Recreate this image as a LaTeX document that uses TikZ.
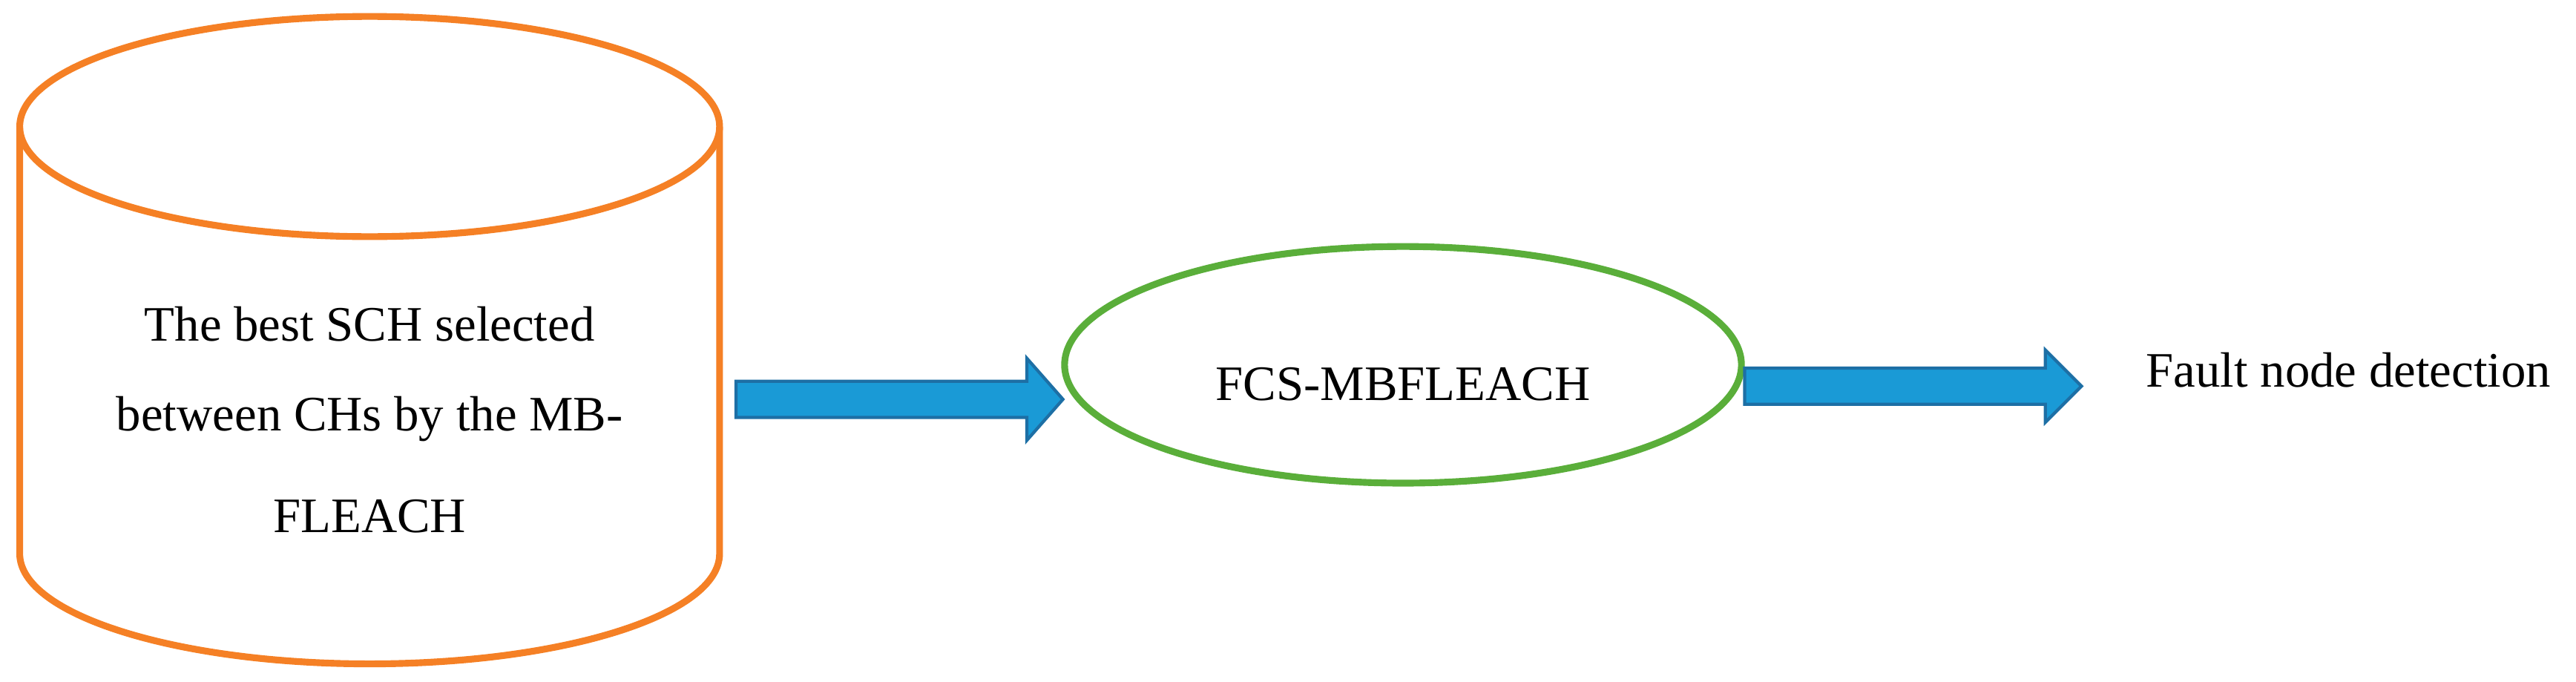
\documentclass[tikz,border=0pt]{standalone}
\usepackage{fontspec}
\setmainfont{Liberation Serif}
\usetikzlibrary{calc}
\definecolor{cylorange}{HTML}{F58025}
\definecolor{ellgreen}{HTML}{5AAE3A}
\definecolor{arrblue}{HTML}{1A9AD6}
\definecolor{arredge}{HTML}{1D6FA5}
\begin{document}
\begin{tikzpicture}[x=0.02214cm,y=-0.02214cm,
  txt/.style={font=\fontsize{19}{22}\selectfont,inner sep=0pt},
  blockarrow/.style={fill=arrblue,draw=arredge,line width=1.2pt}]
\useasboundingbox (0,0) rectangle (1568,415);

% cylinder
\draw[cylorange,line width=2.6pt] (225,77) ellipse (213 and 67);
\draw[cylorange,line width=2.6pt] (12,77) -- (12,337) arc (180:0:213 and 67) -- (438,77);
\node[txt] (l1) at (225,197) {The best SCH selected};
\node[txt] (l2) at (225,255) {between CHs by the MB-};
\node[txt] (l3) at (225,314) {FLEACH};

% middle ellipse
\draw[ellgreen,line width=2.6pt] (854,222) ellipse (206 and 72);
\node[txt] (fcs) at (854,234) {FCS-MBFLEACH};

\node[txt,anchor=west] (fault) at (1306,225) {Fault node detection};

% block arrows
\coordinate (a1) at (448,243);
\coordinate (b1) at (647,243);
\coordinate (a2) at (1062,235);
\coordinate (b2) at (1267,235);
\path[blockarrow] ($(a1)+(0,-11)$) -- ($(b1)+(-22,-11)$) -- ($(b1)+(-22,-25)$) -- (b1)
  -- ($(b1)+(-22,25)$) -- ($(b1)+(-22,11)$) -- ($(a1)+(0,11)$) -- cycle;
\path[blockarrow] ($(a2)+(0,-11)$) -- ($(b2)+(-22,-11)$) -- ($(b2)+(-22,-22)$) -- (b2)
  -- ($(b2)+(-22,22)$) -- ($(b2)+(-22,11)$) -- ($(a2)+(0,11)$) -- cycle;

\end{tikzpicture}
\end{document}
